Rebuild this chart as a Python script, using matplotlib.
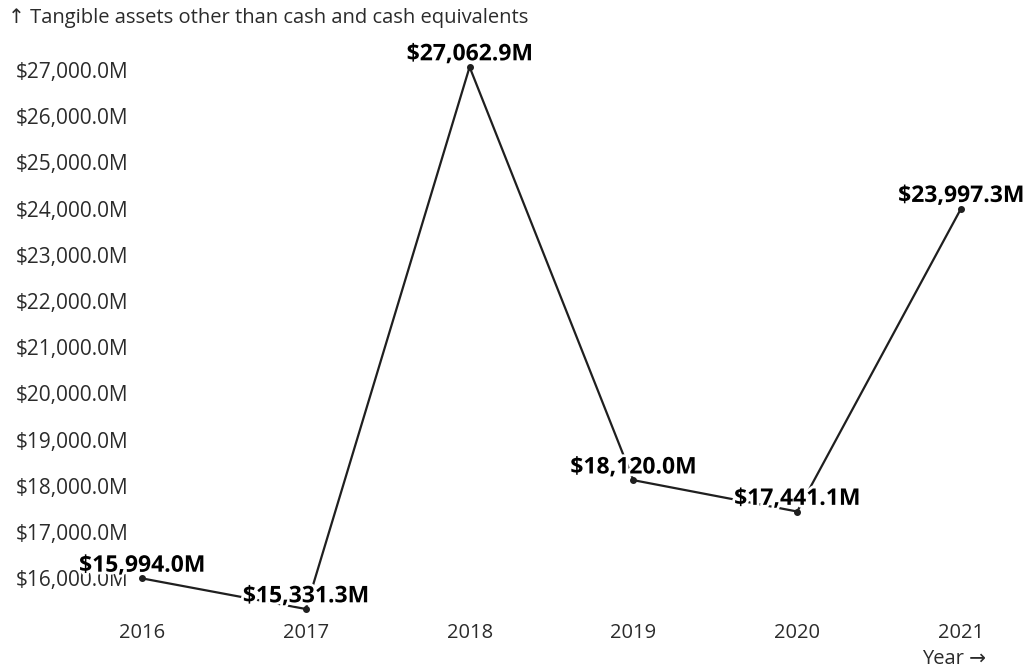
import matplotlib
matplotlib.use("Agg")
import matplotlib.pyplot as plt
import matplotlib.patheffects as pe
from matplotlib.ticker import FuncFormatter

years = [2016, 2017, 2018, 2019, 2020, 2021]
assets = [15994.0, 15331.3, 27062.9, 18120.0, 17441.1, 23997.3]   # $M
yticks = [16000, 17000, 18000, 19000, 20000, 21000, 22000, 23000, 24000, 25000, 26000, 27000]

plt.rcParams["font.family"] = ["Open Sans", "DejaVu Sans"]

W, H = 1031, 669
fig = plt.figure(figsize=(W / 100, H / 100), dpi=100)
# plot frame in pixels: x 142..961, y 67..609 (from top)
ax = fig.add_axes([142 / W, 1 - 609 / H, (961 - 142) / W, (609 - 67) / H])
ax.set_xlim(min(years), max(years))
ax.set_ylim(min(assets), max(assets))
for s in ax.spines.values():
    s.set_visible(False)

ax.plot(years, assets, color="#1f1f1f", lw=1.6, clip_on=False, zorder=2)
ax.scatter(years, assets, s=16, color="#1f1f1f", clip_on=False, zorder=3)

halo = [pe.withStroke(linewidth=4, foreground="white")]
for x, y in zip(years, assets):
    ax.annotate(f"${y:,.1f}M", (x, y), xytext=(0, 0.5), textcoords="offset points",
                ha="center", va="bottom", fontsize=16.5, fontweight="bold",
                color="black", path_effects=halo, zorder=4, annotation_clip=False)

ax.set_xticks(years)
ax.set_xticklabels([str(y) for y in years])
ax.set_yticks(yticks)
ax.yaxis.set_major_formatter(FuncFormatter(lambda v, p: f"${v:,.1f}M"))
ax.tick_params(axis="y", length=0, pad=10, labelsize=15, labelcolor="#2b2b2b")
ax.tick_params(axis="x", length=0, pad=10, labelsize=14.5, labelcolor="#2b2b2b")

fig.text(8 / W, 1 - 18 / H, "↑ Tangible assets other than cash and cash equivalents",
         ha="left", va="center", fontsize=14.5, color="#2b2b2b")
fig.text(986 / W, 1 - 659 / H, "Year →", ha="right", va="center",
         fontsize=14.5, color="#2b2b2b")

fig.savefig("out.png", dpi=100, facecolor="white")
